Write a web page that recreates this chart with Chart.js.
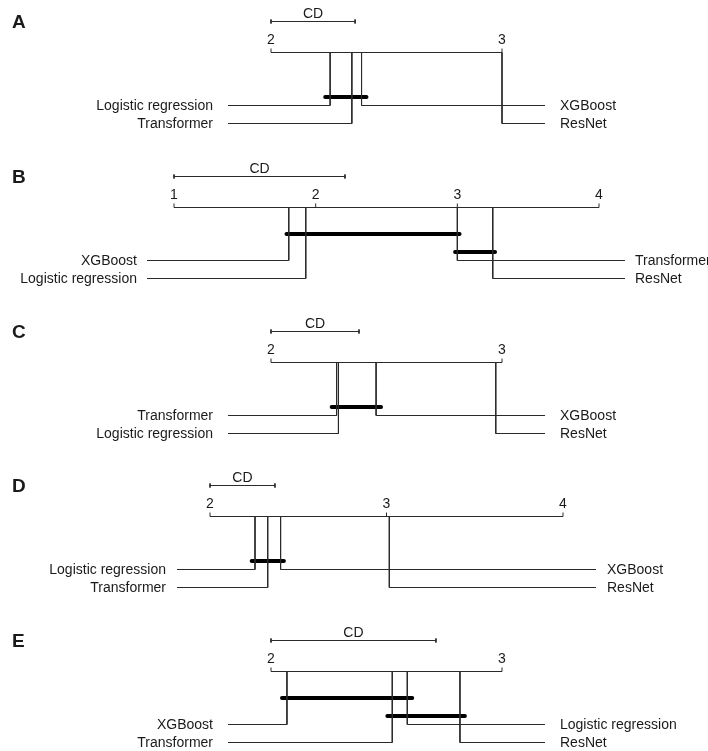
<!DOCTYPE html>
<html lang="en">
<head>
    <meta charset="UTF-8" />
    <title>Critical difference diagrams</title>
    <script src="https://cdn.jsdelivr.net/npm/chart.js"></script>
    <style>
        html, body {
            margin: 0;
            padding: 0;
            background: #fff;
            overflow: hidden;
            width: 708px;
            height: 751px;
        }
        .panel {
            position: absolute;
            left: 0;
        }
    </style>
</head>
<body>
<script>
    // panel letters
    var letters = ['A', 'B', 'C', 'D', 'E'];

    // average ranks per panel (methods listed in rank order)
    var methodsA = ['Logistic regression', 'Transformer', 'XGBoost', 'ResNet'];
    var ranksA = [2.256, 2.35, 2.392, 3.0];
    var ticksA = [2, 3];
    var cdA = 0.364;
    var cliquesA = [['Logistic regression', 'XGBoost']];

    var methodsB = ['XGBoost', 'Logistic regression', 'Transformer', 'ResNet'];
    var ranksB = [1.81, 1.93, 3.0, 3.25];
    var ticksB = [1, 2, 3, 4];
    var cdB = 1.207;
    var cliquesB = [['XGBoost', 'Transformer'], ['Transformer', 'ResNet']];

    var methodsC = ['Transformer', 'Logistic regression', 'XGBoost', 'ResNet'];
    var ranksC = [2.284, 2.292, 2.455, 2.973];
    var ticksC = [2, 3];
    var cdC = 0.381;
    var cliquesC = [['Transformer', 'XGBoost']];

    var methodsD = ['Logistic regression', 'Transformer', 'XGBoost', 'ResNet'];
    var ranksD = [2.255, 2.327, 2.40, 3.016];
    var ticksD = [2, 3, 4];
    var cdD = 0.368;
    var cliquesD = [['Logistic regression', 'XGBoost']];

    var methodsE = ['XGBoost', 'Transformer', 'Logistic regression', 'ResNet'];
    var ranksE = [2.069, 2.525, 2.59, 2.818];
    var ticksE = [2, 3];
    var cdE = 0.714;
    var cliquesE = [['XGBoost', 'Logistic regression'], ['Transformer', 'ResNet']];

    // layout (pixels)
    var W = 708, H = 134;
    var panelTop = [0, 155, 310, 464, 619];
    var axisPx = [[271, 502], [174, 599], [271, 502], [210, 563], [271, 502]];
    var lineEndPx = [[228, 545], [147, 625], [228, 545], [177, 596], [228, 545]];
    var labelGap = [15, 10, 15, 11, 15];
    var AX = 52.5;          // axis line, px from canvas top
    var FIRST_ROW = 53;     // first label row below axis
    var ROW_GAP = 18;
    var CLIQUE_LOW = 44.5;  // lowest clique bar below axis
    var LINE = '#2a2a2a';
    var TEXT = '#1a1a1a';
    var FONT = '"Liberation Sans", Arial, Helvetica, sans-serif';

    function buildPanel(i, methods, ranks, ticks, cd, cliques) {
        var canvas = document.createElement('canvas');
        canvas.width = W;
        canvas.height = H;
        canvas.className = 'panel';
        canvas.style.top = panelTop[i] + 'px';
        document.body.appendChild(canvas);

        var lo = ticks[0], hi = ticks[ticks.length - 1];
        var ppu = (axisPx[i][1] - axisPx[i][0]) / (hi - lo);
        var toVal = function (px) { return lo + (px - axisPx[i][0]) / ppu; };

        var datasets = [];
        function seg(pts, width, color, cap, order) {
            datasets.push({
                data: pts,
                showLine: true,
                borderColor: color,
                borderWidth: width,
                borderCapStyle: cap || 'butt',
                borderJoinStyle: 'miter',
                pointRadius: 0,
                fill: false,
                clip: false,
                order: order || 1
            });
        }

        // axis and integer ticks
        seg([{x: lo, y: AX}, {x: hi, y: AX}], 1, LINE);
        ticks.forEach(function (t) {
            seg([{x: t, y: AX}, {x: t, y: AX - 4}], 1, LINE);
        });

        // CD bar with end marks
        var cdY = AX - 31;
        seg([{x: lo, y: cdY}, {x: lo + cd, y: cdY}], 1, LINE);
        seg([{x: lo, y: cdY - 2}, {x: lo, y: cdY + 2}], 1, LINE);
        seg([{x: lo + cd, y: cdY - 2}, {x: lo + cd, y: cdY + 2}], 1, LINE);

        // method lines: lower half to the left, upper half to the right
        var half = Math.ceil(methods.length / 2);
        var labels = [];
        methods.forEach(function (m, k) {
            var left = k < half;
            var row = left ? k : k - half;
            var y = AX + FIRST_ROW + row * ROW_GAP;
            var endPx = left ? lineEndPx[i][0] : lineEndPx[i][1];
            seg([{x: ranks[k], y: AX}, {x: ranks[k], y: y}, {x: toVal(endPx), y: y}], 1, LINE);
            labels.push({text: m, left: left, x: toVal(endPx), y: y});
        });

        // cliques (groups not significantly different)
        var ext = 0.03 - 2 / ppu;
        cliques.forEach(function (c, k) {
            var r1 = ranks[methods.indexOf(c[0])];
            var r2 = ranks[methods.indexOf(c[1])];
            var y = AX + CLIQUE_LOW - (cliques.length - 1 - k) * ROW_GAP;
            seg([{x: Math.min(r1, r2) - ext, y: y}, {x: Math.max(r1, r2) + ext, y: y}], 4, '#000', 'round', 0);
        });

        var textPlugin = {
            id: 'cdText' + i,
            afterDatasetsDraw: function (chart) {
                var ctx = chart.ctx;
                var xs = chart.scales.x, ys = chart.scales.y;
                ctx.save();
                ctx.fillStyle = TEXT;

                ctx.font = 'bold 19px ' + FONT;
                ctx.textAlign = 'left';
                ctx.textBaseline = 'middle';
                ctx.fillText(letters[i], 12, ys.getPixelForValue(AX - 30));

                ctx.font = '14px ' + FONT;
                ctx.textAlign = 'center';
                ctx.textBaseline = 'alphabetic';
                ctx.fillText('CD', xs.getPixelForValue(lo + cd / 2), ys.getPixelForValue(cdY - 3.5));
                ticks.forEach(function (t) {
                    ctx.fillText(String(t), xs.getPixelForValue(t), ys.getPixelForValue(AX - 8.5));
                });

                ctx.textBaseline = 'middle';
                labels.forEach(function (l) {
                    var px = xs.getPixelForValue(l.x);
                    ctx.textAlign = l.left ? 'right' : 'left';
                    ctx.fillText(l.text, l.left ? px - labelGap[i] : px + labelGap[i], ys.getPixelForValue(l.y) + 0.5);
                });
                ctx.restore();
            }
        };

        new Chart(canvas.getContext('2d'), {
            type: 'scatter',
            data: {datasets: datasets},
            options: {
                responsive: false,
                animation: false,
                events: [],
                layout: {padding: 0},
                plugins: {
                    legend: {display: false},
                    tooltip: {enabled: false}
                },
                scales: {
                    x: {type: 'linear', display: false, min: toVal(0), max: toVal(W)},
                    y: {type: 'linear', display: false, min: 0, max: H, reverse: true}
                }
            },
            plugins: [textPlugin]
        });
    }

    buildPanel(0, methodsA, ranksA, ticksA, cdA, cliquesA);
    buildPanel(1, methodsB, ranksB, ticksB, cdB, cliquesB);
    buildPanel(2, methodsC, ranksC, ticksC, cdC, cliquesC);
    buildPanel(3, methodsD, ranksD, ticksD, cdD, cliquesD);
    buildPanel(4, methodsE, ranksE, ticksE, cdE, cliquesE);
</script>
</body>
</html>
